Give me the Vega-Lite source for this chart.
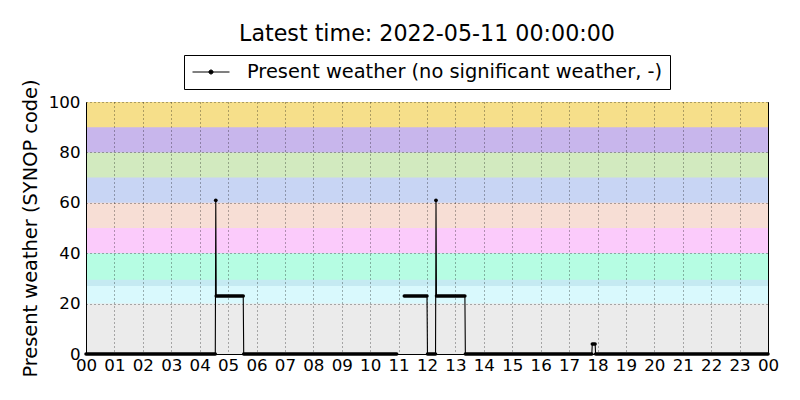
{
  "$schema": "https://vega.github.io/schema/vega-lite/v6.json",
  "width": 682,
  "height": 252,
  "autosize": {"type": "none"},
  "padding": {"left": 86, "top": 102, "right": 32, "bottom": 46},
  "title": {"text": "Latest time: 2022-05-11 00:00:00", "fontSize": 22.2, "fontWeight": "normal", "font": "DejaVu Sans", "color": "black", "baseline": "alphabetic", "offset": 13, "dy": 22},
  "layer": [
    {
      "data": {"values": [
        {"lo": 0, "band": "00-19"},
        {"lo": 20, "band": "20-26"},
        {"lo": 27, "band": "27-29"},
        {"lo": 29.5, "band": "30-39"},
        {"lo": 40, "band": "40-49"},
        {"lo": 50, "band": "50-59"},
        {"lo": 60, "band": "60-69"},
        {"lo": 70, "band": "70-79"},
        {"lo": 80, "band": "80-89"},
        {"lo": 90, "band": "90-99"}
      ]},
      "mark": {"type": "rect"},
      "encoding": {
        "y": {
          "field": "lo",
          "type": "quantitative",
          "scale": {"domain": [0, 100], "nice": false},
          "axis": {
            "title": "Present weather (SYNOP code)",
            "values": [0, 20, 40, 60, 80, 100],
            "titleFontSize": 19.4,
            "titlePadding": 8,
            "labelPadding": 6,
            "grid": true,
            "zindex": 1
          }
        },
        "y2": {"datum": 100},
        "fill": {
          "field": "band",
          "type": "nominal",
          "legend": null,
          "scale": {
            "domain": ["00-19", "20-26", "27-29", "30-39", "40-49", "50-59", "60-69", "70-79", "80-89", "90-99"],
            "range": ["#ebebeb", "#d9f9fd", "#c5eaf2", "#b6fde3", "#fbcbfb", "#f7ded5", "#c8d5f4", "#d2eabf", "#c8b6ec", "#f6df8a"]
          }
        }
      }
    },
    {
      "data": {"values": [
        {"time": "2022-05-10T00:00:00", "code": 0, "seg": 1},
        {"time": "2022-05-10T04:33:00", "code": 0, "seg": 1},
        {"time": "2022-05-10T04:34:00", "code": 61, "seg": 1},
        {"time": "2022-05-10T04:35:00", "code": 23, "seg": 1},
        {"time": "2022-05-10T05:32:00", "code": 23, "seg": 1},
        {"time": "2022-05-10T05:33:00", "code": 0, "seg": 1},
        {"time": "2022-05-10T10:56:00", "code": 0, "seg": 1},
        {"time": "2022-05-10T11:12:00", "code": 23, "seg": 2},
        {"time": "2022-05-10T12:00:00", "code": 23, "seg": 2},
        {"time": "2022-05-10T12:01:00", "code": 0, "seg": 2},
        {"time": "2022-05-10T12:18:00", "code": 0, "seg": 2},
        {"time": "2022-05-10T12:19:00", "code": 61, "seg": 2},
        {"time": "2022-05-10T12:20:00", "code": 23, "seg": 2},
        {"time": "2022-05-10T13:20:00", "code": 23, "seg": 2},
        {"time": "2022-05-10T13:21:00", "code": 0, "seg": 2},
        {"time": "2022-05-10T17:48:00", "code": 0, "seg": 2},
        {"time": "2022-05-10T17:49:00", "code": 4, "seg": 2},
        {"time": "2022-05-10T17:55:00", "code": 4, "seg": 2},
        {"time": "2022-05-10T17:56:00", "code": 0, "seg": 2},
        {"time": "2022-05-11T00:00:00", "code": 0, "seg": 2}
      ]},
      "mark": {"type": "line", "strokeWidth": 1.1},
      "encoding": {
        "x": {
          "field": "time",
          "type": "temporal",
          "scale": {
            "domain": [
              {"year": 2022, "month": 5, "date": 10, "hours": 0},
              {"year": 2022, "month": 5, "date": 11, "hours": 0}
            ],
            "nice": false
          },
          "axis": {
            "title": null,
            "format": "%H",
            "tickCount": 24,
            "labelFlush": false,
            "labelOverlap": false,
            "labelPadding": 3,
            "grid": true,
            "zindex": 1
          }
        },
        "y": {"field": "code", "type": "quantitative"},
        "detail": {"field": "seg", "type": "nominal"},
        "stroke": {
          "datum": "Present weather (no significant weather, -)",
          "type": "nominal",
          "scale": {"range": ["black"]},
          "legend": {
            "orient": "none",
            "legendX": 98,
            "legendY": -47,
            "title": null,
            "strokeColor": "black",
            "fillColor": "white",
            "padding": 7,
            "labelFontSize": 19.4,
            "labelLimit": 0,
            "labelOffset": 26,
            "symbolType": "M-2,0H2M0.22,0A0.22,0.22,0,1,1,-0.22,0A0.22,0.22,0,1,1,0.22,0Z",
            "symbolSize": 342,
            "symbolOffset": 10,
            "symbolFillColor": "black",
            "symbolStrokeWidth": 1
          }
        }
      }
    },
    {
      "data": {"values": [
        {"start": "2022-05-10T00:00:00", "end": "2022-05-10T04:33:00", "code": 0},
        {"start": "2022-05-10T04:35:00", "end": "2022-05-10T05:32:00", "code": 23},
        {"start": "2022-05-10T05:33:00", "end": "2022-05-10T10:56:00", "code": 0},
        {"start": "2022-05-10T11:12:00", "end": "2022-05-10T12:00:00", "code": 23},
        {"start": "2022-05-10T12:01:00", "end": "2022-05-10T12:18:00", "code": 0},
        {"start": "2022-05-10T12:20:00", "end": "2022-05-10T13:20:00", "code": 23},
        {"start": "2022-05-10T13:21:00", "end": "2022-05-10T17:48:00", "code": 0},
        {"start": "2022-05-10T17:49:00", "end": "2022-05-10T17:55:00", "code": 4},
        {"start": "2022-05-10T17:56:00", "end": "2022-05-11T00:00:00", "code": 0}
      ]},
      "mark": {"type": "rule", "strokeWidth": 3.5, "strokeCap": "round", "color": "black"},
      "encoding": {
        "x": {"field": "start", "type": "temporal"},
        "x2": {"field": "end"},
        "y": {"field": "code", "type": "quantitative"}
      }
    },
    {
      "data": {"values": [
        {"time": "2022-05-10T04:34:00", "code": 61},
        {"time": "2022-05-10T12:19:00", "code": 61}
      ]},
      "mark": {"type": "point", "filled": true, "size": 14, "color": "black", "opacity": 1},
      "encoding": {
        "x": {"field": "time", "type": "temporal"},
        "y": {"field": "code", "type": "quantitative"}
      }
    }
  ],
  "config": {
    "font": "DejaVu Sans",
    "view": {"stroke": "black", "strokeWidth": 1},
    "legend": {"labelFont": "DejaVu Sans", "labelColor": "black"},
    "axis": {
      "labelFont": "DejaVu Sans",
      "labelFontSize": 16.7,
      "labelColor": "black",
      "titleFont": "DejaVu Sans",
      "titleFontWeight": "normal",
      "titleColor": "black",
      "ticks": false,
      "domainColor": "black",
      "gridColor": "black",
      "gridWidth": 0.6,
      "gridDash": [1, 3],
      "gridOpacity": 1
    }
  }
}
